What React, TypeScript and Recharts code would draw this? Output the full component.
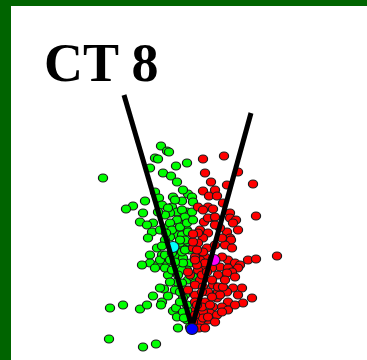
import React from 'react';
import { ScatterChart, Scatter, XAxis, YAxis, Customized } from 'recharts';

// x: fold change (signed), y: score; each pair is [x, y]
const greenGenes: [number, number][] = [
  [-8.9, 15.0], [-3.1, 18.2], [-2.5, 17.7], [-2.3, 17.6], [-3.7, 17.0], [-3.4, 16.9], [-4.2, 16.0],
  [-1.6, 16.2], [-0.5, 16.5], [-2.9, 15.5], [-2.1, 15.2], [-1.5, 14.6], [-3.7, 13.6], [-4.7, 12.7],
  [-5.9, 12.2], [-6.6, 11.9], [-3.3, 13.0], [-1.9, 13.1], [-1.0, 12.7], [-0.4, 13.4], [-3.0, 12.3],
  [-2.0, 12.1], [-1.5, 11.6], [-2.2, 11.5], [-5.2, 10.6], [-3.9, 10.5], [-4.0, 9.6], [-2.4, 10.1],
  [-1.4, 10.6], [-0.5, 10.8], [-1.4, 9.3], [-2.2, 9.1], [-4.4, 9.0], [-0.5, 9.8], [0.0, 13.1],
  [0.1, 12.6], [-0.5, 11.6], [-2.4, 12.0], [-1.0, 11.8], [-0.7, 11.1], [-1.5, 10.8], [-2.2, 10.5],
  [-2.0, 9.8], [-1.2, 10.1], [-0.5, 10.5], [0.0, 11.6], [0.1, 10.8], [-1.0, 9.3], [-0.4, 9.6],
  [-2.7, 8.8], [-3.5, 8.0], [-4.2, 7.3], [-3.0, 7.3], [-4.2, 6.5], [-3.4, 6.3], [-2.5, 6.6],
  [-1.7, 7.3], [-1.0, 8.1], [-0.4, 8.6], [-0.2, 7.8], [-0.9, 7.0], [-1.5, 6.3], [-0.2, 6.5],
  [-0.5, 5.8], [-4.5, 10.3], [-4.9, 11.5], [-8.2, 2.0], [-6.9, 2.3], [-5.2, 1.9], [-4.5, 2.3],
  [-3.9, 3.2], [-3.0, 2.6], [-2.8, 3.9], [-1.9, 1.7], [-1.6, 2.0], [-8.3, -1.1], [-4.9, -1.9],
  [-3.6, -1.6], [-1.4, 0.0], [-5.0, 6.3], [-3.7, 6.0], [-3.0, 8.2], [-2.4, 5.3], [-1.7, 3.8],
  [-1.5, 4.6], [-1.0, 5.8], [-0.9, 6.5], [-0.4, 4.8], [-0.7, 3.3], [-0.4, 1.6], [-3.2, 6.8],
  [-2.7, 7.3], [-2.2, 6.8], [-1.2, 8.5], [-1.0, 7.6], [-3.2, 4.0], [-3.1, 2.3], [-1.5, 1.1],
  [-1.0, 4.5], [-0.7, 3.8], [-0.9, 3.0], [-0.5, 2.3], [-0.9, 1.6], [0.1, 5.1], [0.3, 4.5],
  [-0.2, 1.6], [-0.5, 0.8], [-0.2, 0.1], [-0.7, 8.8], [-0.9, 13.8],
  [-1.7, 12.8], [-2.7, 11.3], [-3.4, 11.6], [-1.2, 8.8], [-2.0, 7.5], [-2.7, 6.0], [-2.0, 5.8],
  [-1.4, 5.3], [-2.2, 4.6], [-1.2, 3.6], [-2.4, 3.2], [-1.2, 2.6], [-0.8, 1.0], [-1.7, 6.6],
  [-0.7, 7.8], [-3.2, 9.8], [-2.6, 9.5],
];

const redGenes: [number, number][] = [
  [1.1, 16.9], [3.2, 17.2], [1.3, 15.5], [1.9, 14.6], [3.5, 14.3], [4.6, 15.6], [6.1, 14.4],
  [1.1, 13.7], [1.7, 13.2], [2.3, 13.8], [2.5, 13.2], [3.1, 12.5], [0.6, 12.1], [1.6, 12.1],
  [2.1, 11.9], [1.1, 11.8], [3.8, 11.5], [6.4, 11.2], [3.8, 11.0], [4.4, 10.8], [2.1, 11.0],
  [1.2, 10.6], [1.6, 11.0], [0.8, 9.8], [1.6, 9.5], [3.5, 9.6], [4.6, 9.8], [4.1, 10.5],
  [2.8, 10.0], [3.8, 9.0], [1.1, 9.0], [2.3, 11.1], [0.6, 8.5], [1.5, 8.0], [0.8, 7.6],
  [3.9, 8.8], [3.3, 8.3], [4.0, 8.0], [1.3, 7.1], [3.6, 6.8], [4.3, 6.5], [4.8, 6.3], [5.6, 6.8],
  [6.4, 6.9], [0.6, 6.5], [1.0, 6.0], [2.8, 6.1], [3.6, 6.0], [4.6, 6.0], [2.0, 6.0], [3.0, 7.1],
  [8.5, 7.2], [4.0, 5.6], [3.5, 5.5], [4.3, 5.1], [5.0, 4.0], [4.1, 4.0], [3.5, 3.6], [2.6, 3.6],
  [2.5, 3.0], [3.6, 2.6], [3.0, 2.1], [3.6, 1.8], [5.1, 2.5], [6.0, 3.0], [2.1, 2.1], [1.8, 1.5],
  [2.5, 1.3], [1.6, 0.8], [0.8, 0.6], [2.8, 3.3], [0.8, 4.8], [0.3, 4.3], [0.3, 3.3], [0.3, 2.6],
  [0.4, 1.8], [1.1, 1.6], [1.3, 2.6], [1.1, 4.1], [1.6, 3.6], [2.1, 4.3], [2.6, 4.1], [3.1, 4.1],
  [0.6, 9.5], [1.1, 7.6], [0.8, 6.8], [1.3, 6.5], [0.6, 5.8], [1.0, 5.3], [0.5, 6.3], [0.3, 7.1],
  [0.1, 8.0], [-0.2, 5.3], [-0.4, 3.8], [1.5, 5.6], [3.0, 1.6], [1.1, 1.0], [0.7, 0.0], [1.0, 3.6],
  [1.0, 2.1], [2.0, 3.1], [0.1, 8.6], [0.5, 7.8], [0.3, 6.8], [0.1, 9.4], [-0.4, 5.6], [0.5, 2.3],
  [0.3, 1.3], [0.1, 0.6], [1.8, 2.3], [1.6, 1.1],
  [2.3, 10.3], [3.0, 9.0], [2.3, 8.3], [2.6, 5.3], [2.0, 4.8], [3.3, 4.8], [4.6, 3.3], [4.3, 2.3],
  [2.3, 0.6], [1.3, 0.0],
];

const greenCenter: [number, number][] = [[-1.9, 8.1]];
const redCenter: [number, number][] = [[2.2, 6.8]];
const origin: [number, number][] = [[0.0, -0.1]];

const leftBound: [number, number][] = [[0.0, 0.1], [-6.8, 23.3]];
const rightBound: [number, number][] = [[0.0, 0.1], [5.9, 21.5]];

const title = 'CT 8';

const toRows = (pts: [number, number][]) => pts.map(([x, y]) => ({ x, y }));

const dot = (fill: string, rx: number, ry: number) => (props: any) => (
  <ellipse cx={props.cx} cy={props.cy} rx={rx} ry={ry} fill={fill} stroke="#1a1a1a" strokeWidth={1.2} />
);

const noDot = () => <g />;

const Title = () => (
  <text x={33} y={75} fontFamily="'Liberation Serif', 'Times New Roman', serif" fontWeight="bold" fontSize={54} fill="#000">
    {title}
  </text>
);

const App: React.FC = () => {
  return (
    <div
      style={{
        position: 'absolute',
        left: 0,
        top: 0,
        width: 356,
        height: 354,
        borderTop: '6px solid #006400',
        borderLeft: '11px solid #006400',
        background: '#fff',
      }}
    >
      <ScatterChart width={356} height={354} margin={{ top: 0, right: 0, bottom: 0, left: 0 }}>
        <XAxis type="number" dataKey="x" domain={[-18.1, 17.5]} allowDataOverflow hide />
        <YAxis type="number" dataKey="y" domain={[-3.2, 32.2]} allowDataOverflow hide />
        <Scatter data={toRows(greenGenes)} shape={dot('#00ff00', 4.6, 4)} isAnimationActive={false} />
        <Scatter data={toRows(redGenes)} shape={dot('#ff0000', 4.6, 4)} isAnimationActive={false} />
        <Scatter data={toRows(greenCenter)} shape={dot('#00ffff', 6, 5.5)} isAnimationActive={false} />
        <Scatter data={toRows(redCenter)} shape={dot('#ff00ff', 6, 5.5)} isAnimationActive={false} />
        <Scatter data={toRows(leftBound)} line={{ stroke: '#000', strokeWidth: 5 }} shape={noDot} isAnimationActive={false} />
        <Scatter data={toRows(rightBound)} line={{ stroke: '#000', strokeWidth: 5 }} shape={noDot} isAnimationActive={false} />
        <Scatter data={toRows(origin)} shape={dot('#0000ff', 6, 5.5)} isAnimationActive={false} />
        <Customized component={Title} />
      </ScatterChart>
    </div>
  );
};

export default App;
